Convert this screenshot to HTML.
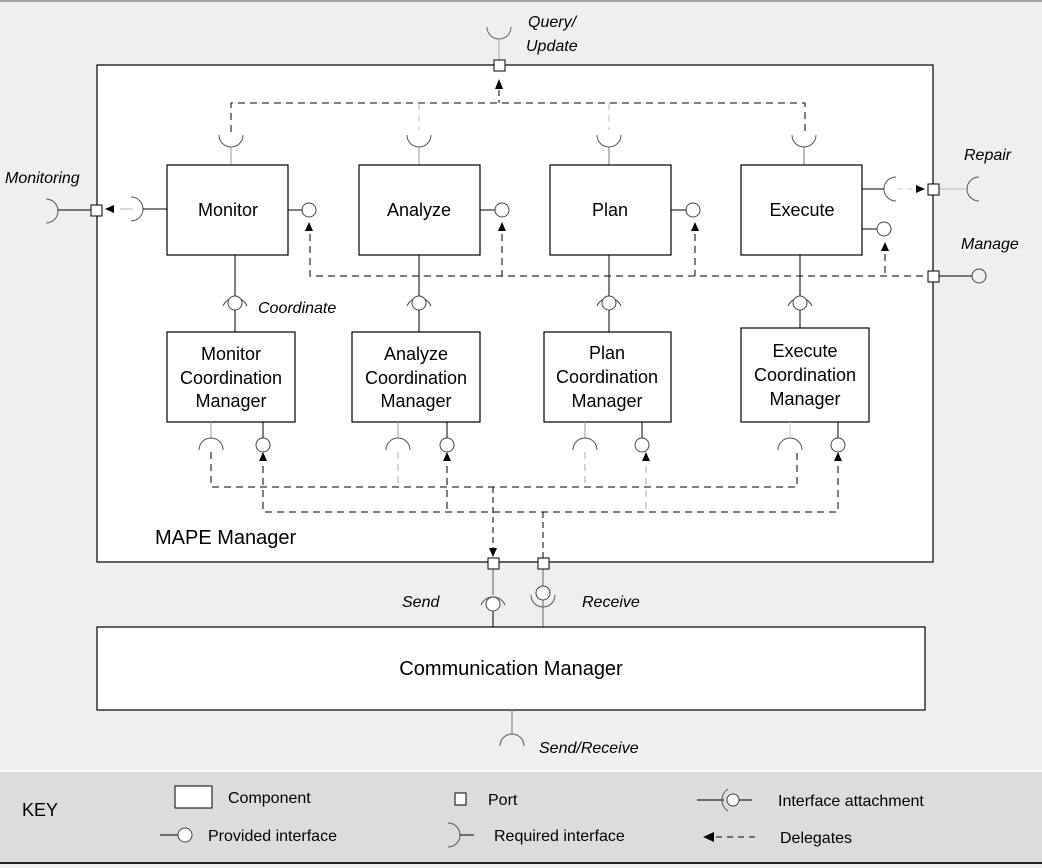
<!DOCTYPE html>
<html><head><meta charset="utf-8"><style>
html,body{margin:0;padding:0;background:#efefef;}
svg{display:block;font-family:"Liberation Sans",sans-serif;}
</style></head><body>
<svg width="1042" height="868" viewBox="0 0 1042 868" xmlns="http://www.w3.org/2000/svg">
<rect x="0" y="0" width="1042" height="868" fill="#efefef"/>
<line x1="0" y1="1" x2="1042" y2="1" stroke="#888" stroke-width="1.5"/>
<!-- key area -->
<rect x="0" y="772" width="1042" height="90" fill="#dcdcdc"/>
<line x1="0" y1="771" x2="1042" y2="771" stroke="#fff" stroke-width="1.5"/>
<line x1="0" y1="863" x2="1042" y2="863" stroke="#222" stroke-width="2"/>

<!-- MAPE box -->
<rect x="97" y="65" width="836" height="497" fill="#fff" stroke="#000" stroke-width="1.2"/>
<text x="155" y="544" font-size="20">MAPE Manager</text>

<g fill="none" stroke="#000" stroke-width="1">
<!-- Query/Update -->
<path d="M487,27 A12,12 0 0 0 511,27" stroke="#666"/>
<line x1="499" y1="39" x2="499" y2="60" stroke="#aaa"/>
<line x1="499" y1="90" x2="499" y2="103" stroke-dasharray="6,4"/>
<!-- top dashed -->
<path d="M231,132 V103 H805 V132" stroke-dasharray="7,5"/>
<line x1="419" y1="103" x2="419" y2="130" stroke="#bbb" stroke-dasharray="7,5"/>
<line x1="609" y1="103" x2="609" y2="130" stroke="#bbb" stroke-dasharray="7,5"/>
<!-- top required arcs -->
<path d="M219,135 A12,12 0 0 0 243,135" stroke="#555"/>
<path d="M407,135 A12,12 0 0 0 431,135" stroke="#555"/>
<path d="M597,135 A12,12 0 0 0 621,135" stroke="#555"/>
<path d="M792,135 A12,12 0 0 0 816,135" stroke="#555"/>
<line x1="231" y1="147" x2="231" y2="165" stroke="#999"/>
<line x1="419" y1="147" x2="419" y2="165" stroke="#999"/>
<line x1="609" y1="147" x2="609" y2="165" stroke="#777"/>
<line x1="804" y1="147" x2="804" y2="165" stroke="#777"/>
</g>
<rect x="494" y="60" width="11" height="11" fill="#fff" stroke="#000"/>
<polygon points="499,79 495,89 503,89" fill="#000"/>

<!-- main components -->
<g fill="#fff" stroke="#000" stroke-width="1.2">
<rect x="167" y="165" width="121" height="90"/>
<rect x="359" y="165" width="121" height="90"/>
<rect x="550" y="165" width="121" height="90"/>
<rect x="741" y="165" width="121" height="90"/>
</g>
<g font-size="18" text-anchor="middle">
<text x="228" y="216">Monitor</text>
<text x="419" y="216">Analyze</text>
<text x="610" y="216">Plan</text>
<text x="802" y="216">Execute</text>
</g>

<g fill="none" stroke="#000" stroke-width="1">
<!-- provided right -->
<line x1="288" y1="210" x2="302" y2="210"/><circle cx="309" cy="210" r="7" stroke="#444"/>
<line x1="480" y1="210" x2="495" y2="210"/><circle cx="502" cy="210" r="7" stroke="#444"/>
<line x1="671" y1="210" x2="686" y2="210"/><circle cx="693" cy="210" r="7" stroke="#444"/>
<line x1="862" y1="229" x2="877" y2="229"/><circle cx="884" cy="229" r="7" stroke="#444"/>
<!-- delegate dashed to provided -->
<path d="M310,234 V276 H928" stroke-dasharray="7,5"/>
<line x1="502" y1="234" x2="502" y2="276" stroke-dasharray="7,5"/>
<line x1="695" y1="234" x2="695" y2="276" stroke-dasharray="7,5"/>
<line x1="885" y1="254" x2="885" y2="276" stroke-dasharray="7,5"/>
<!-- Manage -->
<line x1="939" y1="276" x2="972" y2="276"/><circle cx="979" cy="276" r="7" stroke="#444"/>
<!-- Execute repair -->
<line x1="862" y1="189" x2="884" y2="189"/>
<path d="M896,177 A12,12 0 0 0 896,201" stroke="#555"/>
<line x1="897" y1="189" x2="917" y2="189" stroke="#ccc" stroke-dasharray="6,4"/>
<line x1="939" y1="189" x2="968" y2="189" stroke="#ccc" stroke-width="1.5"/>
<path d="M979,177 A12,12 0 0 0 979,201" stroke="#555"/>
<!-- Monitoring -->
<path d="M46,199 A12,12 0 0 1 46,223" stroke="#555"/>
<line x1="58" y1="210" x2="91" y2="210"/>
<line x1="120" y1="209" x2="133" y2="209" stroke="#ccc" stroke-width="1.5"/>
<path d="M131,197 A12,12 0 0 1 131,221" stroke="#555"/>
<line x1="143" y1="209" x2="167" y2="209"/>
<!-- main to coordinate -->
<line x1="235" y1="255" x2="235" y2="332"/>
<line x1="419" y1="255" x2="419" y2="332"/>
<line x1="609" y1="255" x2="609" y2="332"/>
<line x1="800" y1="255" x2="800" y2="328"/>
</g>
<g fill="#fff" stroke="#444" stroke-width="1">
<path d="M223,306 A13,13 0 0 1 247,306" fill="none"/><circle cx="235" cy="303" r="7"/>
<path d="M407,306 A13,13 0 0 1 431,306" fill="none"/><circle cx="419" cy="303" r="7"/>
<path d="M597,306 A13,13 0 0 1 621,306" fill="none"/><circle cx="609" cy="303" r="7"/>
<path d="M788,306 A13,13 0 0 1 812,306" fill="none"/><circle cx="800" cy="303" r="7"/>
</g>
<rect x="928" y="184" width="11" height="11" fill="#fff" stroke="#000"/>
<rect x="928" y="271" width="11" height="11" fill="#fff" stroke="#000"/>
<rect x="91" y="205" width="11" height="11" fill="#fff" stroke="#000"/>
<g fill="#000">
<polygon points="105,209 114,205 114,213"/>
<polygon points="925,189 916,185 916,193"/>
<polygon points="309,222 305,231 313,231"/>
<polygon points="502,222 498,231 506,231"/>
<polygon points="695,222 691,231 699,231"/>
<polygon points="885,242 881,251 889,251"/>
</g>
<g font-size="16" font-style="italic">
<text x="5" y="183">Monitoring</text>
<text x="528" y="27">Query/</text>
<text x="526" y="51">Update</text>
<text x="964" y="160">Repair</text>
<text x="961" y="249">Manage</text>
<text x="258" y="313">Coordinate</text>
<text x="402" y="607">Send</text>
<text x="582" y="607">Receive</text>
<text x="539" y="753">Send/Receive</text>
</g>

<!-- coordination managers -->
<g fill="#fff" stroke="#000" stroke-width="1.2">
<rect x="167" y="332" width="128" height="90"/>
<rect x="352" y="332" width="128" height="90"/>
<rect x="544" y="332" width="127" height="90"/>
<rect x="741" y="328" width="128" height="94"/>
</g>
<g font-size="18" text-anchor="middle">
<text x="231" y="360">Monitor</text><text x="231" y="384">Coordination</text><text x="231" y="407">Manager</text>
<text x="416" y="360">Analyze</text><text x="416" y="384">Coordination</text><text x="416" y="407">Manager</text>
<text x="607" y="359">Plan</text><text x="607" y="383">Coordination</text><text x="607" y="407">Manager</text>
<text x="805" y="357">Execute</text><text x="805" y="381">Coordination</text><text x="805" y="405">Manager</text>
</g>
<g fill="none" stroke="#000" stroke-width="1">
<!-- below CM -->
<line x1="211" y1="422" x2="211" y2="438" stroke="#999"/>
<path d="M199,450 A12,12 0 0 1 223,450" stroke="#555"/>
<line x1="263" y1="422" x2="263" y2="438"/><circle cx="263" cy="445" r="7" stroke="#444"/>
<line x1="398" y1="422" x2="398" y2="438" stroke="#999"/>
<path d="M386,450 A12,12 0 0 1 410,450" stroke="#555"/>
<line x1="447" y1="422" x2="447" y2="438"/><circle cx="447" cy="445" r="7" stroke="#444"/>
<line x1="585" y1="422" x2="585" y2="438" stroke="#999"/>
<path d="M573,450 A12,12 0 0 1 597,450" stroke="#555"/>
<line x1="642" y1="422" x2="642" y2="438"/><circle cx="642" cy="445" r="7" stroke="#444"/>
<line x1="790" y1="422" x2="790" y2="438" stroke="#ccc"/>
<path d="M778,450 A12,12 0 0 1 802,450" stroke="#555"/>
<line x1="838" y1="422" x2="838" y2="438"/><circle cx="838" cy="445" r="7" stroke="#444"/>
<!-- dashed network -->
<path d="M211,452 V487 H797 V452" stroke-dasharray="7,5"/>
<line x1="398" y1="452" x2="398" y2="487" stroke="#aaa" stroke-dasharray="7,5"/>
<line x1="585" y1="452" x2="585" y2="487" stroke="#aaa" stroke-dasharray="7,5"/>
<path d="M263,466 V512 H838 V466" stroke-dasharray="7,5"/>
<line x1="447" y1="466" x2="447" y2="512" stroke-dasharray="7,5"/>
<line x1="646" y1="466" x2="646" y2="512" stroke="#aaa" stroke-dasharray="7,5"/>
<line x1="493" y1="487" x2="493" y2="548" stroke-dasharray="6,4"/>
<line x1="543" y1="512" x2="543" y2="558" stroke-dasharray="6,4"/>
<!-- send / receive -->
<line x1="493" y1="568" x2="493" y2="595" stroke="#666"/>
<path d="M481,605 A13,13 0 0 1 505,605" stroke="#555"/>
<line x1="493" y1="609" x2="493" y2="627"/>
<line x1="543" y1="568" x2="543" y2="586" stroke="#666"/>
<path d="M531,595 A12,12 0 0 0 555,595" stroke="#555"/>
<line x1="543" y1="600" x2="543" y2="627" stroke="#666"/>
</g>
<circle cx="493" cy="604" r="7" fill="#fff" stroke="#444"/>
<circle cx="543" cy="593" r="7" fill="#fff" stroke="#444"/>
<g fill="#000">
<polygon points="263,452 259,461 267,461"/>
<polygon points="447,452 443,461 451,461"/>
<polygon points="646,452 642,461 650,461"/>
<polygon points="838,452 834,461 842,461"/>
<polygon points="493,557 489,548 497,548"/>
</g>
<rect x="488" y="558" width="11" height="11" fill="#fff" stroke="#000"/>
<rect x="538" y="558" width="11" height="11" fill="#fff" stroke="#000"/>

<!-- communication manager -->
<rect x="97" y="627" width="828" height="83" fill="#fff" stroke="#000" stroke-width="1.2"/>
<text x="511" y="675" font-size="20" text-anchor="middle">Communication Manager</text>
<line x1="512" y1="710" x2="512" y2="734" stroke="#777"/>
<path d="M500,746 A12,12 0 0 1 524,746" fill="none" stroke="#555"/>

<!-- key -->
<g font-size="16">
<text x="22" y="816" font-size="18">KEY</text>
<rect x="175" y="786" width="37" height="22" fill="#fff" stroke="#000"/>
<text x="228" y="803">Component</text>
<rect x="455" y="793" width="11" height="12" fill="#fff" stroke="#000"/>
<text x="488" y="805">Port</text>
<line x1="697" y1="800" x2="724" y2="800" stroke="#000"/>
<path d="M728,789 A13,13 0 0 0 728,811" fill="none" stroke="#555"/>
<circle cx="733" cy="800" r="6" fill="#fff" stroke="#444"/>
<line x1="739" y1="800" x2="752" y2="800" stroke="#000"/>
<text x="778" y="806">Interface attachment</text>
<line x1="160" y1="835" x2="178" y2="835" stroke="#000"/>
<circle cx="185" cy="835" r="7" fill="#fff" stroke="#444"/>
<text x="208" y="841">Provided interface</text>
<path d="M448,823 A12,12 0 0 1 448,847" fill="none" stroke="#555"/>
<line x1="460" y1="835" x2="474" y2="835" stroke="#000"/>
<text x="494" y="841">Required interface</text>
<polygon points="703,837 714,832 714,842" fill="#000"/>
<line x1="716" y1="837" x2="760" y2="837" stroke="#000" stroke-dasharray="6,5"/>
<text x="780" y="843">Delegates</text>
</g>
</svg>
</body></html>
